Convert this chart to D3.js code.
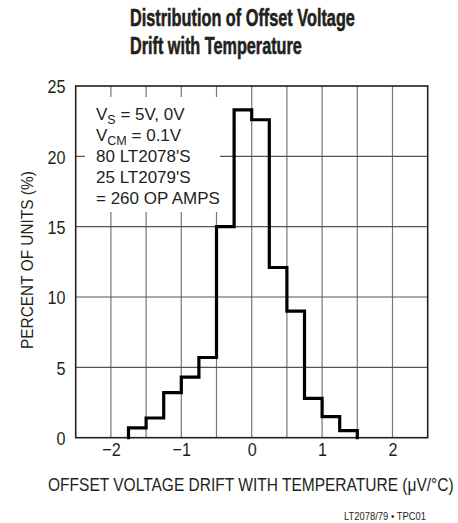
<!DOCTYPE html>
<html><head><meta charset="utf-8">
<script src="https://cdn.jsdelivr.net/npm/d3@7"></script>
<style>
body{margin:0;background:#fff;}
svg{display:block;}
text{font-family:"Liberation Sans",Arial,sans-serif;fill:#231f20;}
</style></head><body>
<script>
const binStarts = [-1.75,-1.5,-1.25,-1.0,-0.75,-0.5,-0.25,0.0,0.25,0.5,0.75,1.0,1.25];
const binWidth = 0.25;
const percents = [0.7,1.4,3.2,4.3,5.7,15.0,23.3,22.6,12.1,9.0,2.8,1.5,0.5];
const xTicks = [-2,-1,0,1,2];
const xTickLabels = ["\u22122","\u22121","0","1","2"];
const yTicks = [0,5,10,15,20,25];
const xGrid = [-2,-1.5,-1,-0.5,0,0.5,1,1.5,2];
const titleLines = ["Distribution of Offset Voltage","Drift with Temperature"];
const noteLines = [["V","S"," = 5V, 0V"],["V","CM"," = 0.1V"],["80 LT2078'S"],["25 LT2079'S"],["= 260 OP AMPS"]];

const W=458,H=523;
const svg=d3.select("body").append("svg").attr("width",W).attr("height",H);
const x=d3.scaleLinear().domain([-2.5,2.5]).range([75.7,427.7]);
const y=d3.scaleLinear().domain([0,25]).range([437.7,86]);

// helper: squeeze a text horizontally to a target width via transform
function squeeze(sel, tx, ty, target, rot){
  const len = sel.node().getComputedTextLength();
  const s = target/len;
  sel.attr("x",0).attr("y",0)
     .attr("transform",`translate(${tx},${ty})${rot?` rotate(${rot})`:""} scale(${s},1)`);
}

// title
const titleW=[225,172];
titleLines.forEach((d,i)=>{
  const t=svg.append("text").attr("font-size",24).attr("font-weight","bold")
    .attr("stroke","#231f20").attr("stroke-width",0.6).text(d);
  squeeze(t,130,26+i*28,titleW[i]);
});

// grid
const g=svg.append("g");
g.selectAll(".vg").data(xGrid).join("line").attr("class","vg")
  .attr("x1",d=>x(d)).attr("x2",d=>x(d)).attr("y1",y(25)).attr("y2",y(0))
  .attr("stroke","#777").attr("stroke-width",1.2);
g.selectAll(".hg").data(yTicks.slice(1,-1)).join("line").attr("class","hg")
  .attr("x1",x(-2.5)).attr("x2",x(2.5)).attr("y1",d=>y(d)).attr("y2",d=>y(d))
  .attr("stroke","#555").attr("stroke-width",1.2);

// annotation background
g.append("rect").attr("x",85).attr("y",97).attr("width",135).attr("height",115).attr("fill","#fff");

// frame
g.append("rect").attr("x",x(-2.5)).attr("y",y(25)).attr("width",x(2.5)-x(-2.5)).attr("height",y(0)-y(25))
  .attr("fill","none").attr("stroke","#231f20").attr("stroke-width",1.6);

// histogram step path
const pts=[];
binStarts.forEach((s,i)=>{
  if(i===0) pts.push([s,0]);
  pts.push([s,percents[i]]);
  pts.push([s+binWidth,percents[i]]);
});
pts.push([binStarts[binStarts.length-1]+binWidth,0]);
svg.append("path").datum(pts)
  .attr("d",d3.line().x(d=>x(d[0])).y(d=>y(d[1])))
  .attr("fill","none").attr("stroke","#000").attr("stroke-width",3.2).attr("stroke-linejoin","miter").attr("stroke-linecap","square");

// annotation text
const nt=svg.append("g");
noteLines.forEach((ln,i)=>{
  const t=nt.append("text").attr("x",96).attr("y",120+i*21).attr("font-size",17);
  if(ln.length===3){
    t.append("tspan").text(ln[0]);
    t.append("tspan").attr("font-size",12.5).attr("dy",4).text(ln[1]);
    t.append("tspan").attr("dy",-4).text(ln[2]);
  } else t.text(ln[0]);
});

// y ticks
const ya=svg.append("g").attr("transform",`translate(${x(-2.5)},0)`)
  .call(d3.axisLeft(y).tickValues(yTicks).tickSize(0).tickPadding(12));
ya.select(".domain").remove();
ya.selectAll("text").attr("font-size",19).attr("font-family",null).attr("dy","0.36em")
  .attr("transform","scale(0.85,1)");

// x ticks
const xa=svg.append("g").attr("transform",`translate(0,${y(0)})`)
  .call(d3.axisBottom(x).tickValues(xTicks).tickFormat((d,i)=>xTickLabels[i]).tickSize(0).tickPadding(5));
xa.select(".domain").remove();
xa.selectAll("text").attr("font-size",19).attr("font-family",null).attr("dy","0.71em")
  .attr("transform","scale(0.85,1)");

// axis titles
const xt=svg.append("text").attr("font-size",18)
  .text("OFFSET VOLTAGE DRIFT WITH TEMPERATURE (\u03bcV/\u00b0C)");
squeeze(xt,48,491,406);
const yt=svg.append("text").attr("font-size",17).text("PERCENT OF UNITS (%)");
squeeze(yt,33,349,178,-90);
const ft=svg.append("text").attr("font-size",10.5).text("LT2078/79 \u2022 TPC01");
squeeze(ft,344,520,82);
</script></body></html>
